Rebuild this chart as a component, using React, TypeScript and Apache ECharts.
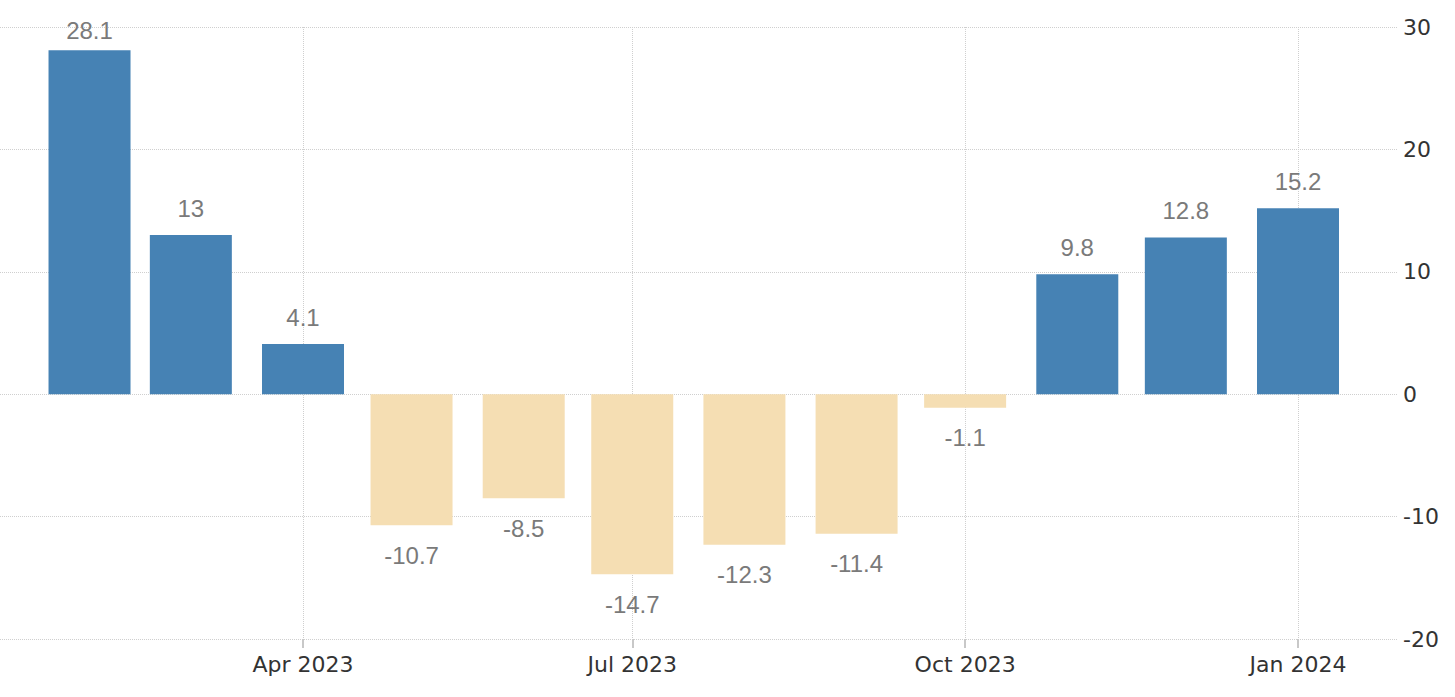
import React, { useEffect, useRef } from "react";
import * as echarts from "echarts";

const months: string[] = [
  "2023-02-01", "2023-03-01", "2023-04-01", "2023-05-01", "2023-06-01", "2023-07-01",
  "2023-08-01", "2023-09-01", "2023-10-01", "2023-11-01", "2023-12-01", "2024-01-01",
];
const values: number[] = [28.1, 13, 4.1, -10.7, -8.5, -14.7, -12.3, -11.4, -1.1, 9.8, 12.8, 15.2];
const xTickDates: string[] = ["2023-04-01", "2023-07-01", "2023-10-01", "2024-01-01"];
const yTicks = { min: -20, max: 30, interval: 10 };
const monthNames = ["Jan", "Feb", "Mar", "Apr", "May", "Jun", "Jul", "Aug", "Sep", "Oct", "Nov", "Dec"];

function toTime(s: string): number {
  const [y, m, d] = s.split("-").map(Number);
  return new Date(y, m - 1, d).getTime();
}

const DAY = 86400000;

export default function App() {
  const ref = useRef<HTMLDivElement>(null);
  useEffect(() => {
    if (!ref.current) return;
    const chart = echarts.init(ref.current, null, { renderer: "svg" });
    const apr = toTime("2023-04-01");
    const jan = toTime("2024-01-01");
    const pxPerDay = 995 / ((jan - apr) / DAY);
    const xMin = apr - (303 / pxPerDay) * DAY;
    const xMax = jan + (100 / pxPerDay) * DAY;
    const tickValues = xTickDates.map(toTime);
    const axisFont = "'DejaVu Sans', sans-serif";
    const labelFont = "'Liberation Sans', Arial, sans-serif";
    const topLimit = yTicks.max - 3;
    chart.setOption({
      animation: false,
      grid: {
        left: 0,
        right: 57,
        top: 27,
        bottom: 58,
        containLabel: false,
        outerBoundsMode: "none",
      },
      xAxis: {
        type: "value",
        min: xMin,
        max: xMax,
        axisLine: { show: false, onZero: false },
        axisTick: {
          show: true,
          length: 9,
          customValues: tickValues,
          lineStyle: { color: "#c8c8c8", width: 2 },
        },
        minorTick: { show: false },
        splitLine: {
          show: true,
          lineStyle: { type: "dotted", color: "#cfcfcf", width: 1 },
        },
        axisLabel: {
          color: "#333",
          fontSize: 22,
          fontFamily: axisFont,
          margin: 14,
          customValues: tickValues,
          formatter: (v: number) => {
            const d = new Date(v);
            return monthNames[d.getMonth()] + " " + d.getFullYear();
          },
        },
      },
      yAxis: {
        type: "value",
        position: "right",
        min: yTicks.min,
        max: yTicks.max,
        interval: yTicks.interval,
        axisLine: { show: false },
        axisTick: { show: false },
        splitLine: { show: true, lineStyle: { type: "dotted", color: "#cfcfcf", width: 1 } },
        axisLabel: { color: "#333", fontSize: 22, fontFamily: axisFont, margin: 5, align: "left" },
      },
      series: [
        {
          type: "bar",
          barWidth: 82,
          data: months.map((m, i) => ({
            value: [toTime(m), values[i]],
            itemStyle: { color: values[i] >= 0 ? "#4682B4" : "#F5DEB3" },
            label: {
              position: values[i] >= 0 ? "top" : "bottom",
              distance: values[i] >= 0 ? (values[i] > topLimit ? 8 : 15) : 18,
            },
          })),
          label: {
            show: true,
            color: "#7a7a7a",
            fontSize: 24,
            fontFamily: labelFont,
            formatter: (p: any) => String(p.value[1]),
          },
        },
      ],
    });
    return () => chart.dispose();
  }, []);
  return (
    <div
      ref={ref}
      style={{ position: "absolute", left: 0, top: 0, width: 1455, height: 697 }}
    />
  );
}
